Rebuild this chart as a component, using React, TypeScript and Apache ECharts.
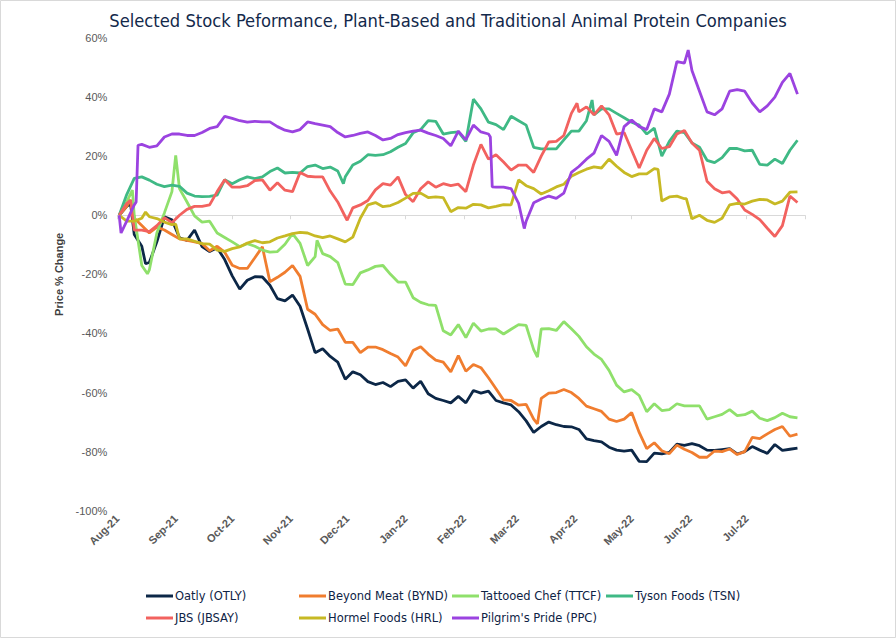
import React, { useEffect, useRef } from "react";
import * as echarts from "echarts";

// ---------- DATA ----------
const TITLE = "Selected Stock Peformance, Plant-Based and Traditional Animal Protein Companies";
const AXIS_START = [2021, 7, 1]; // Aug 1, 2021 (UTC, month 0-based)
const AXIS_END = [2022, 7, 1]; // Aug 1, 2022
const MONTH_NAMES = ["Jan", "Feb", "Mar", "Apr", "May", "Jun", "Jul", "Aug", "Sep", "Oct", "Nov", "Dec"];
const SAMPLE_START_DAY = 1; // day offset from Aug 1, 2021 of first sample
const SAMPLE_STEP_DAYS = 4; // samples every 4 calendar days
const Y_MIN = -100;
const Y_MAX = 60;
const Y_INTERVAL = 20;

const SERIES_NAMES = [
  "Oatly (OTLY)",
  "Beyond Meat (BYND)",
  "Tattooed Chef (TTCF)",
  "Tyson Foods (TSN)",
  "JBS (JBSAY)",
  "Hormel Foods (HRL)",
  "Pilgrim's Pride (PPC)",
];

const SERIES_COLORS = ["#0c2747", "#f07d2f", "#8fe06b", "#3fb985", "#f2625f", "#c7b924", "#9b43e0"];

// % change, sampled every 4 days
const OTLY = [
  0, 3, -6.5, -10.5, -16, -9, -0.5, -1.5, -7.6, -8.5,
  -5, -10.6, -12.3, -11, -15, -20.5, -25, -22, -20.8, -20.9,
  -23.7, -28.2, -29, -27, -30.8, -38.5, -46.5, -45.2, -47.8, -49.7,
  -55.5, -53, -54, -56.3, -57.3, -56.6, -58, -56.2, -55.7, -58.5,
  -56.2, -60.4, -62, -62.7, -63.5, -61.3, -63.5, -59.3, -60.2, -59.5,
  -62.7, -63.5, -64.2, -66.5, -69.6, -73.5, -71.5, -70, -70.9, -71.5,
  -71.6, -72.5, -75.7, -76.3, -76.7, -78.5, -79.5, -79.8, -79.5, -83.3,
  -83.4, -80.5, -80.8, -80.3, -77.5, -77.9, -77.3, -78, -79.5, -79.6,
  -79.3, -79, -80.8, -80, -78.3, -79.5, -80.6, -77.6, -79.6, -79.2,
  -78.8,
];
const OTLY_EXTRA: [number, number][] = [[7, 4], [15, -16.4]];

const BYND = [
  0, 3, -1, -3.5, -6, -4, -5, -6.5, -8, -8.5,
  -9, -9.6, -12, -10.5, -12.5, -16.9, -18, -18, -14.4, -10.7,
  -22.5, -21, -19.3, -17, -20.7, -31.8, -33.5, -37, -39, -38.5,
  -43, -43, -46.5, -44.6, -44.6, -45.5, -46.8, -48, -51, -45.8,
  -44.5, -47, -49, -49.7, -53, -47.5, -52.8, -50.5, -51.6, -55,
  -58.7, -62.5, -62.7, -64.3, -64, -69, -62, -60.2, -60, -59,
  -60, -62, -64.6, -65.5, -66.4, -69, -69.8, -69, -66.8, -73.5,
  -79, -77, -79.7, -80.7, -77.8, -79.2, -80.3, -81.9, -81.9, -79.8,
  -80, -79.1, -81, -80, -75.2, -75.6, -74, -72.5, -71.5, -74.8,
  -74.1,
];
const BYND_EXTRA: [number, number][] = [[7, 5.2], [223, -70.6]];

const TTCF = [
  0, 4.5, 0, -17, -18.5, -6, 0.8, 8, 9, 4.5,
  -0.2, -2.3, -2, -6, -7.5, -9, -10.6, -9.6, -10.5, -11.8,
  -12.5, -12.3, -9.8, -6.2, -9.5, -17, -14, -13, -14, -16,
  -23.3, -23.5, -19.5, -18.5, -17.3, -17, -20, -22.6, -22.6, -27.9,
  -29.5, -30.3, -30.5, -39.1, -40.5, -37, -41.4, -36.5, -39.2, -38.5,
  -38.5, -40.2, -38.6, -37, -37.3, -45.5, -38.5, -38.4, -39, -36,
  -38.4, -41, -44.5, -47, -48.8, -52.5, -57.5, -59.8, -59, -61,
  -66.5, -63.8, -66.1, -65.8, -63.8, -64.5, -64.5, -64.5, -69, -68.2,
  -67.4, -65.8, -67.8, -67.5, -66.3, -68.7, -69.5, -68.5, -67, -68.2,
  -68.6,
];
const TTCF_EXTRA: [number, number][] = [[8, 8.5], [16, -19.8], [31, 20.3], [106, -8.5], [223, -48]];

const TSN = [
  0, 7, 12.5, 13, 11.9, 10.5, 9.7, 10.2, 9.8, 7.5,
  6.5, 6.3, 6.4, 6.8, 12, 10.7, 12, 13, 12.4, 13,
  14.8, 16, 14.3, 14.5, 14.3, 16.5, 17, 15.8, 16.3, 15,
  13, 17, 18.3, 20.5, 20.3, 20.5, 21.5, 23, 24.3, 27.9,
  29, 32, 31.8, 27.5, 28, 28.2, 25, 39.3, 36, 31.5,
  30.7, 29, 33.5, 32, 30.5, 23, 22.5, 22.5, 22.5, 25.5,
  28.5, 28.5, 32, 34, 36, 36, 34.5, 33, 31.5, 30.5,
  27.5, 29.5, 20, 25, 28.5, 28, 24.5, 23, 18.6, 17.8,
  19.5, 22.6, 22.6, 21.8, 22, 17.2, 17, 19, 17.5, 22,
  25.4,
];
const TSN_EXTRA: [number, number][] = [[120, 10.7], [252, 39]];

const JBSAY = [
  0, 4, -5, -5, -5.5, -3.5, -0.8, -2.5, 0, 2,
  3, 3, 3.5, 8, 12, 9.5, 9.5, 10, 11.7, 12,
  8.5, 11, 8.5, 8, 14.5, 13.2, 13, 13, 8.2, 4.5,
  -0.5, 2.5, 3.5, 5, 8.6, 10.7, 10.2, 13, 7, 4.6,
  9, 11.3, 9.5, 10.7, 10, 10.5, 8, 17, 24, 19,
  20.5, 18, 15.3, 17, 17, 14.5, 20, 24.8, 25, 27,
  34.5, 35, 36.7, 34, 37, 34, 27.5, 28, 22, 16,
  22, 26, 22.6, 23.2, 27.5, 28.7, 24.5, 22, 11.5, 9,
  7.6, 8, 5.5, 1.8, 0.3, -1.5, -4.4, -7.2, -3.5, 6.5,
  4.3,
];
const JBSAY_EXTRA: [number, number][] = [[7, 5.1], [122, -1.7], [244, 37.9]];

const HRL = [
  0, -2, -2, -1, -0.5, -1.1, -2.3, -3.2, -8, -8,
  -8.8, -9.6, -9.8, -11.8, -12.2, -11.3, -10.7, -9.4, -8.6, -9.3,
  -9, -7.7, -7, -6.2, -5.8, -6, -7, -7.6, -7, -8,
  -9, -7.4, -1, 3.5, 4.3, 2.9, 3.3, 4.3, 5.8, 7.4,
  7.5, 6, 6.2, 6, 1.2, 2.6, 2.4, 3.7, 3.5, 2.5,
  3, 3.6, 3.5, 12, 10, 9, 7.2, 8.3, 9.6, 10.5,
  13.2, 14.5, 15.6, 16.4, 16, 19, 16.6, 14.5, 13.1, 14,
  14, 15.8, 4.8, 6.2, 6.5, 5.6, -1.2, 0, -1.7, -2.4,
  -1, 3.5, 4, 3.8, 4.8, 5.4, 5.2, 3.8, 4.8, 7.8,
  7.9,
];
const HRL_EXTRA: [number, number][] = [[15, 1.1], [31, -3], [287, 15.5], [302, 5.6]];

const PPC = [
  0, -2, 3.5, 24, 23, 23.5, 26.5, 27.5, 27.5, 27,
  27, 28, 29.4, 30, 33.5, 32.8, 32, 31.5, 31.8, 31.6,
  31.6, 30, 28.8, 28.2, 29, 31.6, 31, 30.5, 30, 28,
  26.5, 27, 27.7, 28.2, 27, 25.5, 26, 27.3, 28, 28.5,
  28.8, 27.8, 27, 26, 23.5, 28.5, 25.5, 30.5, 28.2, 27.5,
  9.5, 9.5, 9, 4, -2, 4.2, 5.5, 6.5, 5.7, 7.5,
  14.5, 16.5, 19, 21, 27, 25, 20.3, 30, 32.2, 30,
  29, 36, 35, 41, 52, 51.5, 49, 42, 35, 34,
  36, 42, 42.5, 42, 38, 35, 37, 40, 45, 48,
  41,
];
const PPC_EXTRA: [number, number][] = [[2, -6], [10, 4.5], [11, 23.7], [198, 26.5], [199, 9.6], [216, -4.5], [303, 55.9]];

const SERIES_VALUES = [OTLY, BYND, TTCF, TSN, JBSAY, HRL, PPC];
const SERIES_EXTRAS = [OTLY_EXTRA, BYND_EXTRA, TTCF_EXTRA, TSN_EXTRA, JBSAY_EXTRA, HRL_EXTRA, PPC_EXTRA];

// legend layout (left px, top px) per series
const LEGEND_POS: [number, number][] = [
  [146, 590], [299, 590], [452, 590], [606, 590],
  [146, 612], [299, 612], [452, 612],
];

// ---------- HELPERS ----------
function buildDays(): string[] {
  const out: string[] = [];
  const s = Date.UTC(AXIS_START[0], AXIS_START[1], AXIS_START[2]);
  const e = Date.UTC(AXIS_END[0], AXIS_END[1], AXIS_END[2]);
  for (let t = s; t <= e; t += 86400000) out.push(new Date(t).toISOString().slice(0, 10));
  return out;
}

function monthLabel(v: string): string {
  return MONTH_NAMES[parseInt(v.slice(5, 7), 10) - 1] + "-" + v.slice(2, 4);
}

function buildData(days: string[], values: number[], extra: [number, number][]) {
  const pts: [number, number][] = values.map((v, i) => [SAMPLE_START_DAY + i * SAMPLE_STEP_DAYS, v]);
  extra.forEach((p) => pts.push(p));
  pts.sort((a, b) => a[0] - b[0]);
  return pts.map(([d, v]) => [days[d], v]);
}

export default function App() {
  const ref = useRef<HTMLDivElement>(null);

  useEffect(() => {
    if (!ref.current) return;
    const chart = echarts.init(ref.current, undefined, { renderer: "svg" });
    const days = buildDays();
    const lastIdx = days.length - 1;
    const tickFont = "'Liberation Sans', Arial, sans-serif";
    const legendFont = "'DejaVu Sans', sans-serif";

    const series = SERIES_NAMES.map((name, i) => ({
      name,
      type: "line",
      data: buildData(days, SERIES_VALUES[i], SERIES_EXTRAS[i]),
      showSymbol: false,
      symbol: "none",
      lineStyle: { width: 2.8, color: SERIES_COLORS[i] },
      itemStyle: { color: SERIES_COLORS[i] },
      z: 2 + i,
    }));

    const legends = SERIES_NAMES.map((name, i) => ({
      data: [name],
      left: LEGEND_POS[i][0],
      top: LEGEND_POS[i][1],
      orient: "horizontal",
      padding: 0,
      icon: "rect",
      itemWidth: 27,
      itemHeight: 3,
      selectedMode: false,
      textStyle: { fontFamily: legendFont, fontSize: 11.5, color: "#0e2345", padding: [0, 0, 0, -3] },
    }));

    chart.setOption({
      animation: false,
      backgroundColor: "#ffffff",
      title: {
        text: TITLE,
        left: "center",
        top: 6,
        textStyle: {
          fontFamily: "'DejaVu Sans Condensed', 'Liberation Sans', sans-serif",
          fontSize: 18.2,
          fontWeight: "normal",
          color: "#13294b",
        },
      },
      legend: legends,
      grid: { left: 117.3, right: 91, top: 38, bottom: 127.3, containLabel: false },
      xAxis: {
        type: "category",
        data: days,
        boundaryGap: false,
        axisLine: { show: true, lineStyle: { color: "#d9d9d9", width: 1 } },
        axisTick: {
          show: true,
          length: 4,
          lineStyle: { color: "#d9d9d9" },
          interval: (_idx: number, v: string) => v.slice(8, 10) === "01",
        },
        axisLabel: {
          rotate: 45,
          margin: 6,
          color: "#595959",
          fontFamily: tickFont,
          fontWeight: "bold",
          fontSize: 11,
          interval: (idx: number, v: string) => v.slice(8, 10) === "01" && idx !== lastIdx,
          formatter: (v: string) => monthLabel(v),
        },
        splitLine: { show: false },
      },
      yAxis: {
        type: "value",
        min: Y_MIN,
        max: Y_MAX,
        interval: Y_INTERVAL,
        name: "Price % Change",
        nameLocation: "middle",
        nameGap: 45,
        nameRotate: 90,
        nameTextStyle: { fontFamily: tickFont, fontSize: 11, color: "#404040", fontWeight: "bold" },
        axisLine: { show: false },
        axisTick: { show: false },
        splitLine: { show: false },
        axisLabel: {
          margin: 10,
          color: "#595959",
          fontFamily: tickFont,
          fontSize: 11,
          formatter: (v: number) => `${v}%`,
        },
      },
      graphic: [
        {
          type: "rect",
          silent: true,
          shape: { x: 0.5, y: 0.5, width: 895, height: 637 },
          style: { fill: "none", stroke: "#d9d9d9", lineWidth: 1 },
          z: 100,
        },
      ],
      series,
    });

    return () => chart.dispose();
  }, []);

  return (
    <div style={{ position: "fixed", left: 0, top: 0, width: 896, height: 638, background: "#fff" }}>
      <div ref={ref} style={{ width: 896, height: 638 }} />
    </div>
  );
}
